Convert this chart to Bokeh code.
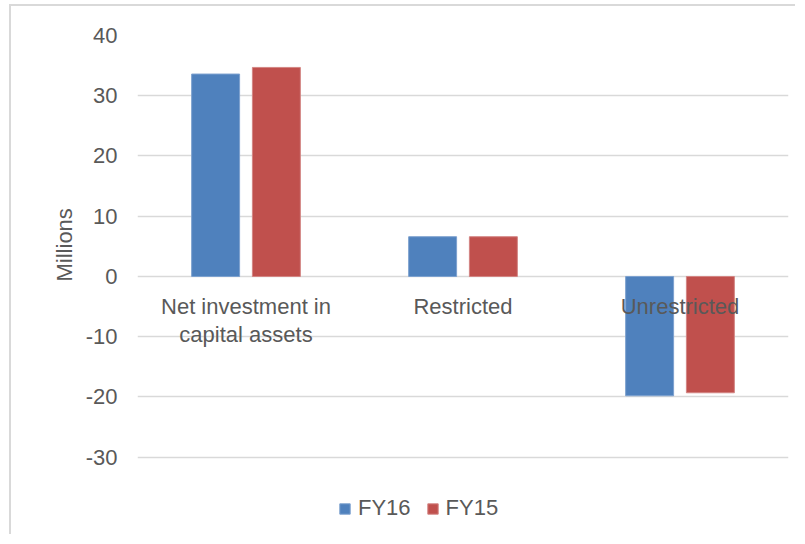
from bokeh.plotting import figure
from bokeh.models import (FactorRange, Range1d, FixedTicker, Legend, LegendItem,
                          ColumnDataSource, PrintfTickFormatter, Title)
from bokeh.transform import dodge
from bokeh.core.properties import value
from bokeh.embed import file_html
from bokeh.resources import INLINE

categories = ["Net investment in capital assets", "Restricted", "Unrestricted"]
category_labels = ["Net investment in\ncapital assets", "Restricted", "Unrestricted"]
fy16 = [33.6, 6.6, -19.8]
fy15 = [34.7, 6.6, -19.3]
series_names = ["FY16", "FY15"]
y_ticks = [-30, -20, -10, 0, 10, 20, 30, 40]
y_axis_title = "Millions"

FONT = "Liberation Sans"
TXT = "#595959"
GRID = "#d9d9d9"
FS = "22px"

# frame extends below the last tick so the legend can sit inside it
p = figure(x_range=FactorRange(*categories), y_range=Range1d(-42.33, 40),
           width=786, height=530, output_backend="svg", toolbar_location=None,
           min_border_left=126, min_border_right=9, min_border_top=29, min_border_bottom=5)
p.styles = {"border-left": "2px solid #d9d9d9", "border-top": "2px solid #d9d9d9",
            "margin-left": "9px", "margin-top": "4px"}
p.outline_line_color = None
p.background_fill_color = "white"
p.border_fill_color = "white"
p.xgrid.grid_line_color = None
p.ygrid.grid_line_color = GRID
p.ygrid.grid_line_width = 1.5
p.yaxis.ticker = FixedTicker(ticks=y_ticks)
p.yaxis.formatter = PrintfTickFormatter(format="%d")
p.yaxis.axis_line_color = None
p.yaxis.major_tick_line_color = None
p.yaxis.minor_tick_line_color = None
p.yaxis.major_label_text_font = FONT
p.yaxis.major_label_text_font_size = FS
p.yaxis.major_label_text_color = TXT
p.yaxis.major_label_standoff = 14
p.xaxis.visible = False

ytitle = Title(text=y_axis_title, align="left", offset=250, standoff=12,
               text_font=FONT, text_font_style="normal", text_font_size=FS,
               text_color=TXT)
p.add_layout(ytitle, "left")

source = ColumnDataSource(dict(cat=categories, label=category_labels,
                               fy16=fy16, fy15=fy15, zero=[0] * len(categories)))

r16 = p.vbar(x=dodge("cat", -0.14, range=p.x_range), top="fy16", width=0.221, source=source,
             fill_color="#4F81BD", line_color="#7DA1CF", line_width=1)
r15 = p.vbar(x=dodge("cat", 0.14, range=p.x_range), top="fy15", width=0.221, source=source,
             fill_color="#C0504D", line_color="#D38583", line_width=1)

p.text(x="cat", y="zero", text="label", source=source, text_align="center",
       text_baseline="top", y_offset=18, text_font=value(FONT), text_font_size=FS,
       text_color=TXT, text_line_height=1.1)

legend = Legend(items=[LegendItem(label=series_names[0], renderers=[r16]),
                       LegendItem(label=series_names[1], renderers=[r15])],
                orientation="horizontal", location=(201, 10),
                glyph_width=13, glyph_height=13, label_standoff=7, spacing=15,
                padding=0, margin=0, border_line_color=None, background_fill_alpha=0,
                label_text_font=FONT, label_text_font_size=FS, label_text_color=TXT)
p.add_layout(legend)

open("out.html", "w").write(file_html(p, INLINE))
